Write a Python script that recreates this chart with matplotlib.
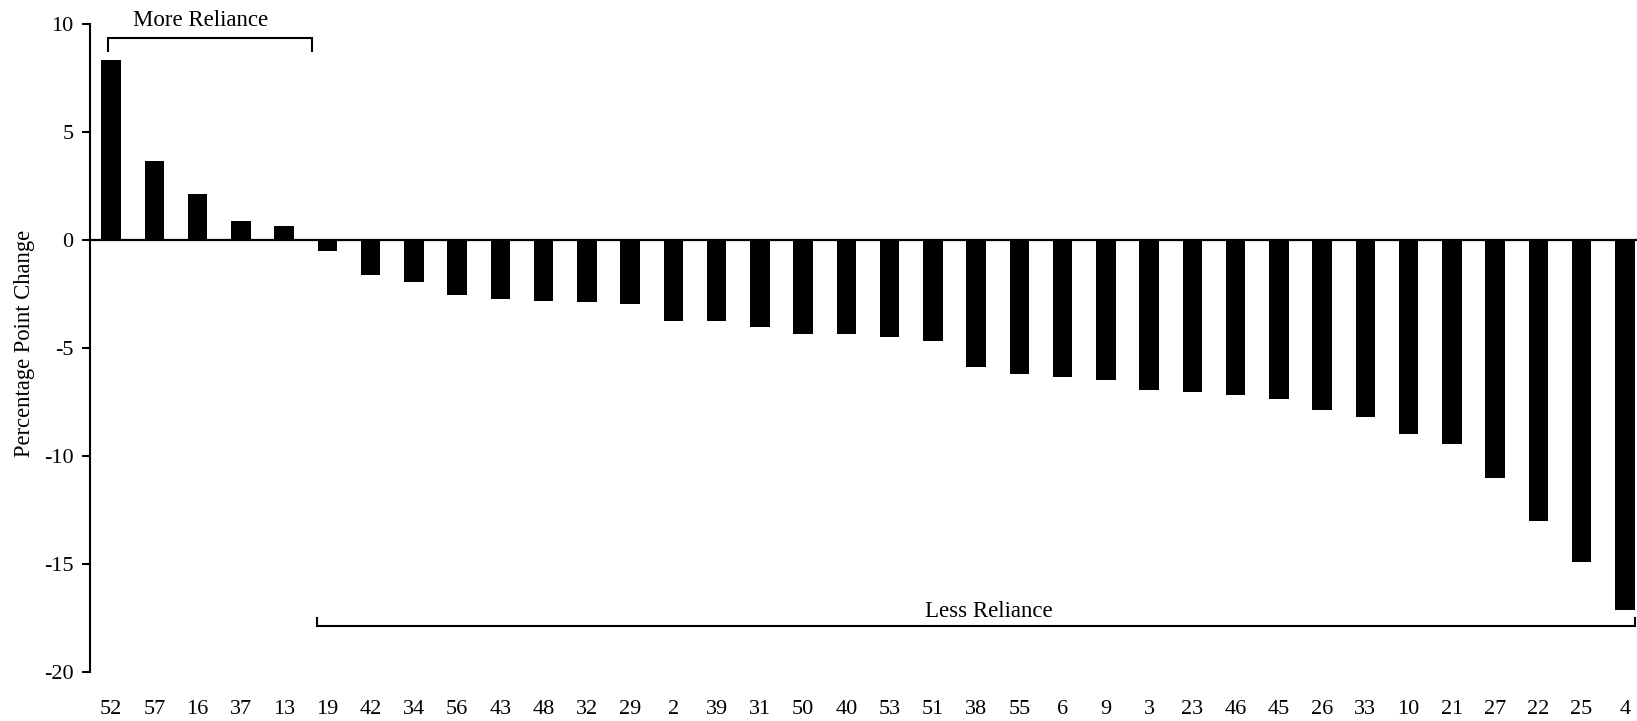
import numpy as np
import matplotlib.pyplot as plt

# ---------------------------------------------------------------------------------------
# Dados
# ---------------------------------------------------------------------------------------

ids = ['52', '57', '16', '37', '13', '19', '42', '34', '56', '43', '48', '32',
       '29', '2', '39', '31', '50', '40', '53', '51', '38', '55', '6', '9',
       '3', '23', '46', '45', '26', '33', '10', '21', '27', '22', '25', '4']

variacao = [8.36, 3.70, 2.14, 0.91, 0.69, -0.51, -1.59, -1.93, -2.53, -2.73,
            -2.81, -2.85, -2.92, -3.73, -3.73, -4.01, -4.31, -4.31, -4.46, -4.66,
            -5.86, -6.20, -6.33, -6.48, -6.94, -7.01, -7.14, -7.36, -7.84, -8.19,
            -8.94, -9.41, -11.02, -13.01, -14.89, -17.13]

yticks = [-20, -15, -10, -5, 0, 5, 10]

plt.rcParams['font.family'] = ['Liberation Serif', 'DejaVu Serif']


def chave(ax, x0, x1, y, dy):
    """
    Desenha um colchete horizontal com
    as pontas viradas na direcao dy
    """
    ax.plot([x0, x0, x1, x1], [y + dy, y, y, y + dy], color='black',
            linewidth=1.5, solid_joinstyle='miter', clip_on=False)


fig = plt.figure(figsize=(16.37, 7.21), dpi=100)
ax = fig.add_axes([0.0547, 0.0673, 0.9511, 0.8988])

x = np.arange(len(ids))
ax.bar(x, variacao, width=0.45, color='black', zorder=2)
ax.axhline(0, color='black', linewidth=1.6, zorder=3)

ax.set_xlim(-0.5, len(ids) - 0.5)
ax.set_ylim(-20, 10)
ax.set_yticks(yticks)
ax.set_yticklabels([str(v) for v in yticks])
ax.set_xticks(x)
ax.set_xticklabels(ids)

for lado in ['top', 'right', 'bottom']:
    ax.spines[lado].set_visible(False)
ax.spines['left'].set_linewidth(1.5)
ax.tick_params(axis='y', direction='out', length=5.5, width=1.5, pad=6, labelsize=16)
ax.tick_params(axis='x', length=0, pad=20, labelsize=16)
ax.set_ylabel('Percentage Point Change', fontsize=16.3)
ax.yaxis.set_label_coords(-0.0353, 0.508)

# colchetes de mais e menos dependencia
npos = sum(1 for v in variacao if v > 0)
chave(ax, -0.08, npos - 1 + 0.64, 9.38, -0.6)
ax.text((npos - 1) / 2 + 0.06, 9.95, 'More Reliance', ha='center', va='baseline', fontsize=16.5)

chave(ax, npos - 0.25, len(ids) - 1 + 0.23, -17.86, 0.4)
ax.text(20.3, -17.41, 'Less Reliance', ha='center', va='baseline', fontsize=16.5)

plt.savefig('out.png', dpi=100)
